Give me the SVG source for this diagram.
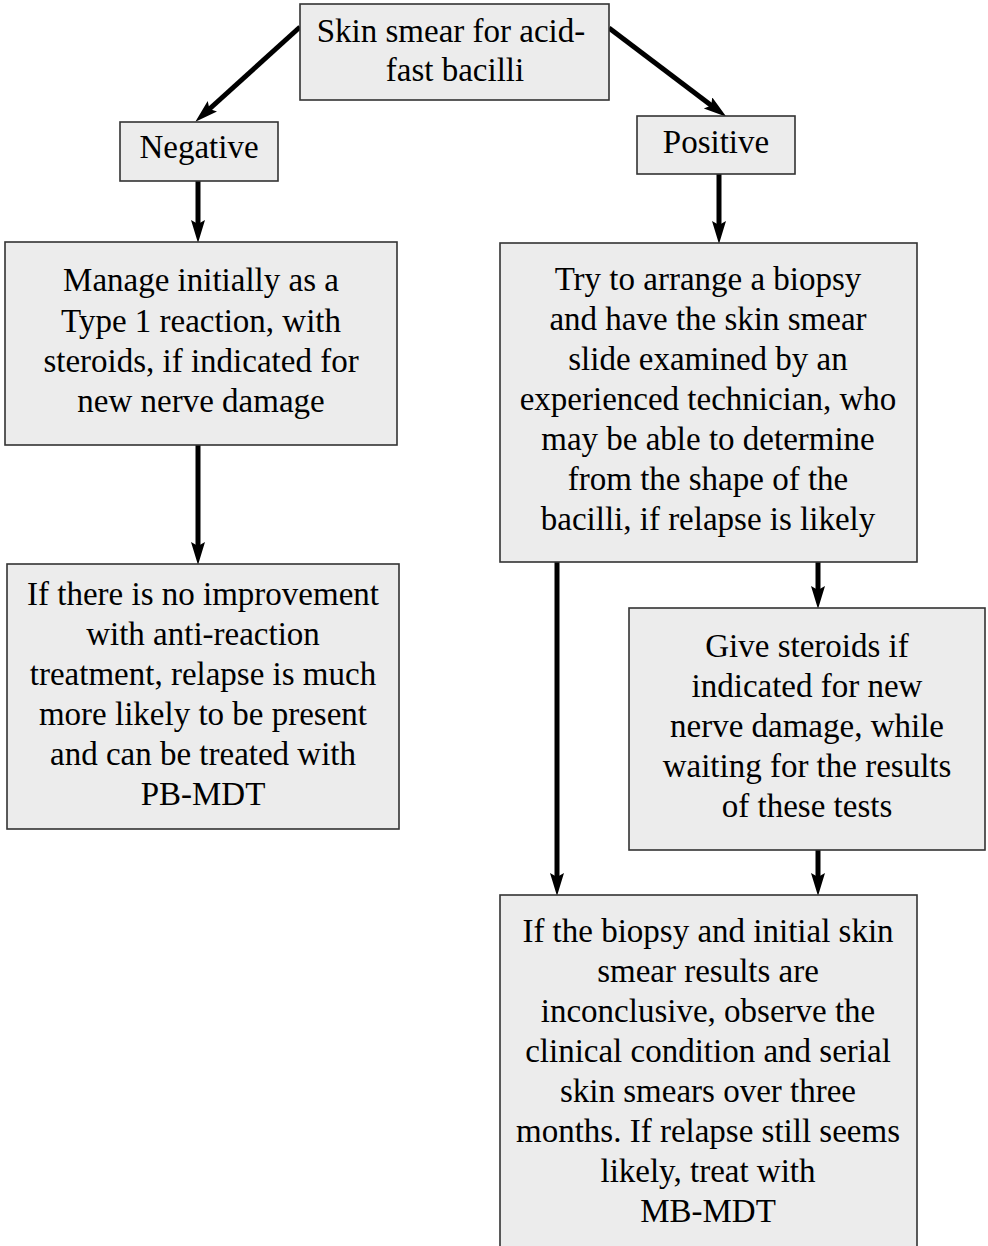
<svg xmlns="http://www.w3.org/2000/svg" width="988" height="1246" viewBox="0 0 988 1246">
<style>
.box{fill:#ececec;stroke:#333;stroke-width:1.6}
.t{font-family:"Liberation Serif","Times New Roman",serif;font-size:33px;fill:#000;text-anchor:middle}
.c{stroke:#000;stroke-width:5;fill:none;marker-end:url(#ah)}
</style>
<defs>
<marker id="ah" markerUnits="userSpaceOnUse" markerWidth="24" markerHeight="16" refX="10" refY="7" orient="auto">
<path d="M0,0 L23,7 L0,14 L4,7 z" fill="#000"/>
</marker>
</defs>
<rect width="988" height="1246" fill="#fff"/>
<g id="connectors">
<line class="c" x1="300" y1="27" x2="205" y2="113"/>
<line class="c" x1="609" y1="28" x2="716" y2="109"/>
<line class="c" x1="198" y1="181" x2="198" y2="230"/>
<line class="c" x1="198" y1="445" x2="198" y2="552"/>
<line class="c" x1="719" y1="174" x2="719" y2="231"/>
<line class="c" x1="818" y1="562" x2="818" y2="596"/>
<line class="c" x1="557" y1="562" x2="557" y2="883"/>
<line class="c" x1="818" y1="850" x2="818" y2="883"/>
</g>
<g id="n-top">
<rect class="box" x="300" y="4" width="309" height="96"/>
<text class="t" x="451" y="42">Skin smear for acid-</text>
<text class="t" x="455" y="81">fast bacilli</text>
</g>
<g id="n-negative">
<rect class="box" x="120" y="122" width="158" height="59"/>
<text class="t" x="199" y="158">Negative</text>
</g>
<g id="n-positive">
<rect class="box" x="637" y="116" width="158" height="58"/>
<text class="t" x="716" y="153">Positive</text>
</g>
<g id="n-manage">
<rect class="box" x="5" y="242" width="392" height="203"/>
<text class="t" x="201" y="291">Manage initially as a</text>
<text class="t" x="201" y="332">Type 1 reaction, with</text>
<text class="t" x="201" y="372">steroids, if indicated for</text>
<text class="t" x="201" y="412">new nerve damage</text>
</g>
<g id="n-improvement">
<rect class="box" x="7" y="564" width="392" height="265"/>
<text class="t" x="203" y="605">If there is no improvement</text>
<text class="t" x="203" y="645">with anti-reaction</text>
<text class="t" x="203" y="685">treatment, relapse is much</text>
<text class="t" x="203" y="725">more likely to be present</text>
<text class="t" x="203" y="765">and can be treated with</text>
<text class="t" x="203" y="805">PB-MDT</text>
</g>
<g id="n-biopsy">
<rect class="box" x="500" y="243" width="417" height="319"/>
<text class="t" x="708" y="290">Try to arrange a biopsy</text>
<text class="t" x="708" y="330">and have the skin smear</text>
<text class="t" x="708" y="370">slide examined by an</text>
<text class="t" x="708" y="410">experienced technician, who</text>
<text class="t" x="708" y="450">may be able to determine</text>
<text class="t" x="708" y="490">from the shape of the</text>
<text class="t" x="708" y="530">bacilli, if relapse is likely</text>
</g>
<g id="n-steroids">
<rect class="box" x="629" y="608" width="356" height="242"/>
<text class="t" x="807" y="657">Give steroids if</text>
<text class="t" x="807" y="697">indicated for new</text>
<text class="t" x="807" y="737">nerve damage, while</text>
<text class="t" x="807" y="777">waiting for the results</text>
<text class="t" x="807" y="817">of these tests</text>
</g>
<g id="n-inconclusive">
<rect class="box" x="500" y="895" width="417" height="360"/>
<text class="t" x="708" y="942">If the biopsy and initial skin</text>
<text class="t" x="708" y="982">smear results are</text>
<text class="t" x="708" y="1022">inconclusive, observe the</text>
<text class="t" x="708" y="1062">clinical condition and serial</text>
<text class="t" x="708" y="1102">skin smears over three</text>
<text class="t" x="708" y="1142">months. If relapse still seems</text>
<text class="t" x="708" y="1182">likely, treat with</text>
<text class="t" x="708" y="1222">MB-MDT</text>
</g>
</svg>
